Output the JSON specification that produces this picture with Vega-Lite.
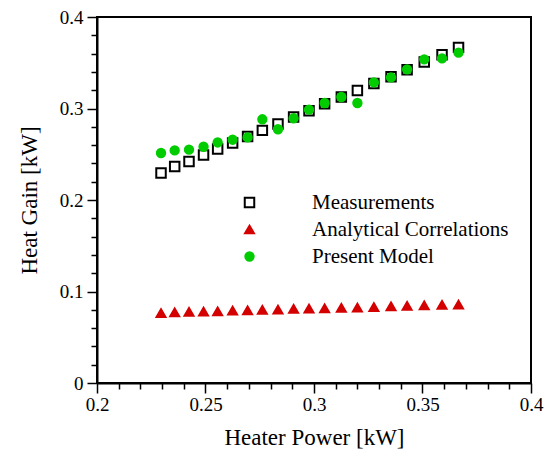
{
  "$schema": "https://vega.github.io/schema/vega-lite/v6.json",
  "autosize": "none",
  "width": 434,
  "height": 366,
  "padding": {"left": 97, "top": 17, "right": 18, "bottom": 70},
  "background": "white",
  "config": {
    "font": "Liberation Serif",
    "view": {"stroke": "black", "strokeWidth": 2},
    "axis": {
      "domainColor": "black",
      "domainWidth": 2,
      "tickColor": "black",
      "tickWidth": 1.5,
      "labelColor": "black",
      "labelFont": "Liberation Serif",
      "labelFontSize": 19,
      "titleFont": "Liberation Serif",
      "titleFontSize": 23,
      "titleFontWeight": "normal",
      "titleColor": "black",
      "grid": false,
      "labelOverlap": false,
      "labelFlush": false
    },
    "legend": {
      "orient": "none",
      "legendX": 142,
      "legendY": 175,
      "padding": 0,
      "labelFontSize": 21,
      "labelFont": "Liberation Serif",
      "labelColor": "black",
      "labelOffset": 52,
      "rowPadding": 5,
      "symbolStrokeWidth": 2,
      "labelLimit": 400
    }
  },
  "data": {
    "values": [
      {"power": 0.2295, "gain": 0.2295, "series": "Measurements"},
      {"power": 0.2358, "gain": 0.2367, "series": "Measurements"},
      {"power": 0.2424, "gain": 0.2422, "series": "Measurements"},
      {"power": 0.2491, "gain": 0.2492, "series": "Measurements"},
      {"power": 0.2556, "gain": 0.2557, "series": "Measurements"},
      {"power": 0.2625, "gain": 0.2623, "series": "Measurements"},
      {"power": 0.2694, "gain": 0.2695, "series": "Measurements"},
      {"power": 0.2762, "gain": 0.2761, "series": "Measurements"},
      {"power": 0.2834, "gain": 0.2831, "series": "Measurements"},
      {"power": 0.2906, "gain": 0.2907, "series": "Measurements"},
      {"power": 0.2977, "gain": 0.2976, "series": "Measurements"},
      {"power": 0.3049, "gain": 0.3052, "series": "Measurements"},
      {"power": 0.3126, "gain": 0.3126, "series": "Measurements"},
      {"power": 0.3200, "gain": 0.3198, "series": "Measurements"},
      {"power": 0.3276, "gain": 0.3274, "series": "Measurements"},
      {"power": 0.3355, "gain": 0.3348, "series": "Measurements"},
      {"power": 0.3429, "gain": 0.3424, "series": "Measurements"},
      {"power": 0.3508, "gain": 0.3508, "series": "Measurements"},
      {"power": 0.3590, "gain": 0.3588, "series": "Measurements"},
      {"power": 0.3666, "gain": 0.3668, "series": "Measurements"},
      {"power": 0.2295, "gain": 0.0765, "series": "Analytical Correlations"},
      {"power": 0.2358, "gain": 0.0772, "series": "Analytical Correlations"},
      {"power": 0.2424, "gain": 0.0776, "series": "Analytical Correlations"},
      {"power": 0.2491, "gain": 0.0779, "series": "Analytical Correlations"},
      {"power": 0.2556, "gain": 0.0783, "series": "Analytical Correlations"},
      {"power": 0.2625, "gain": 0.0790, "series": "Analytical Correlations"},
      {"power": 0.2694, "gain": 0.0794, "series": "Analytical Correlations"},
      {"power": 0.2762, "gain": 0.0798, "series": "Analytical Correlations"},
      {"power": 0.2834, "gain": 0.0801, "series": "Analytical Correlations"},
      {"power": 0.2906, "gain": 0.0809, "series": "Analytical Correlations"},
      {"power": 0.2977, "gain": 0.0812, "series": "Analytical Correlations"},
      {"power": 0.3049, "gain": 0.0816, "series": "Analytical Correlations"},
      {"power": 0.3126, "gain": 0.0820, "series": "Analytical Correlations"},
      {"power": 0.3200, "gain": 0.0823, "series": "Analytical Correlations"},
      {"power": 0.3276, "gain": 0.0830, "series": "Analytical Correlations"},
      {"power": 0.3355, "gain": 0.0838, "series": "Analytical Correlations"},
      {"power": 0.3429, "gain": 0.0842, "series": "Analytical Correlations"},
      {"power": 0.3508, "gain": 0.0848, "series": "Analytical Correlations"},
      {"power": 0.3590, "gain": 0.0853, "series": "Analytical Correlations"},
      {"power": 0.3666, "gain": 0.0856, "series": "Analytical Correlations"},
      {"power": 0.2295, "gain": 0.2514, "series": "Present Model"},
      {"power": 0.2358, "gain": 0.2542, "series": "Present Model"},
      {"power": 0.2424, "gain": 0.2550, "series": "Present Model"},
      {"power": 0.2491, "gain": 0.2582, "series": "Present Model"},
      {"power": 0.2556, "gain": 0.2629, "series": "Present Model"},
      {"power": 0.2625, "gain": 0.2659, "series": "Present Model"},
      {"power": 0.2694, "gain": 0.2684, "series": "Present Model"},
      {"power": 0.2762, "gain": 0.2882, "series": "Present Model"},
      {"power": 0.2834, "gain": 0.2773, "series": "Present Model"},
      {"power": 0.2906, "gain": 0.2893, "series": "Present Model"},
      {"power": 0.2977, "gain": 0.2987, "series": "Present Model"},
      {"power": 0.3049, "gain": 0.3060, "series": "Present Model"},
      {"power": 0.3126, "gain": 0.3126, "series": "Present Model"},
      {"power": 0.3200, "gain": 0.3060, "series": "Present Model"},
      {"power": 0.3276, "gain": 0.3285, "series": "Present Model"},
      {"power": 0.3355, "gain": 0.3340, "series": "Present Model"},
      {"power": 0.3429, "gain": 0.3428, "series": "Present Model"},
      {"power": 0.3508, "gain": 0.3537, "series": "Present Model"},
      {"power": 0.3590, "gain": 0.3548, "series": "Present Model"},
      {"power": 0.3666, "gain": 0.3610, "series": "Present Model"}
    ]
  },
  "mark": {"type": "point", "strokeWidth": 2, "opacity": 1, "fillOpacity": 1, "strokeOpacity": 1},
  "encoding": {
    "x": {
      "field": "power",
      "type": "quantitative",
      "scale": {"domain": [0.2, 0.4], "nice": false, "zero": false},
      "axis": {
        "title": "Heater Power [kW]",
        "titlePadding": 12,
        "values": [0.2, 0.21, 0.22, 0.23, 0.24, 0.25, 0.26, 0.27, 0.28, 0.29, 0.3, 0.31, 0.32, 0.33, 0.34, 0.35, 0.36, 0.37, 0.38, 0.39, 0.4],
        "tickSize": {"condition": {"test": "abs(datum.value*20 - round(datum.value*20)) < 0.000001", "value": 10}, "value": 6},
        "labelPadding": 2,
        "labelExpr": "abs(datum.value*20 - round(datum.value*20)) < 0.000001 ? format(datum.value, '.2~f') : ''"
      }
    },
    "y": {
      "field": "gain",
      "type": "quantitative",
      "scale": {"domain": [0, 0.4], "nice": false},
      "axis": {
        "title": "Heat Gain [kW]",
        "titlePadding": 18,
        "values": [0, 0.02, 0.04, 0.06, 0.08, 0.1, 0.12, 0.14, 0.16, 0.18, 0.2, 0.22, 0.24, 0.26, 0.28, 0.3, 0.32, 0.34, 0.36, 0.38, 0.4],
        "tickSize": {"condition": {"test": "abs(datum.value*10 - round(datum.value*10)) < 0.000001", "value": 10}, "value": 6},
        "labelPadding": 4,
        "labelExpr": "abs(datum.value*10 - round(datum.value*10)) < 0.000001 ? format(datum.value, '.1~f') : ''"
      }
    },
    "shape": {
      "field": "series",
      "type": "nominal",
      "title": null,
      "scale": {"domain": ["Measurements", "Analytical Correlations", "Present Model"], "range": ["square", "triangle-up", "circle"]}
    },
    "stroke": {
      "field": "series",
      "type": "nominal",
      "title": null,
      "scale": {"domain": ["Measurements", "Analytical Correlations", "Present Model"], "range": ["#000000", "#d40000", "#00cc00"]}
    },
    "fill": {
      "field": "series",
      "type": "nominal",
      "title": null,
      "scale": {"domain": ["Measurements", "Analytical Correlations", "Present Model"], "range": ["#ffffff", "#d40000", "#00cc00"]}
    },
    "size": {
      "field": "series",
      "type": "nominal",
      "title": null,
      "scale": {"domain": ["Measurements", "Analytical Correlations", "Present Model"], "range": [90, 70, 28]}
    }
  }
}
